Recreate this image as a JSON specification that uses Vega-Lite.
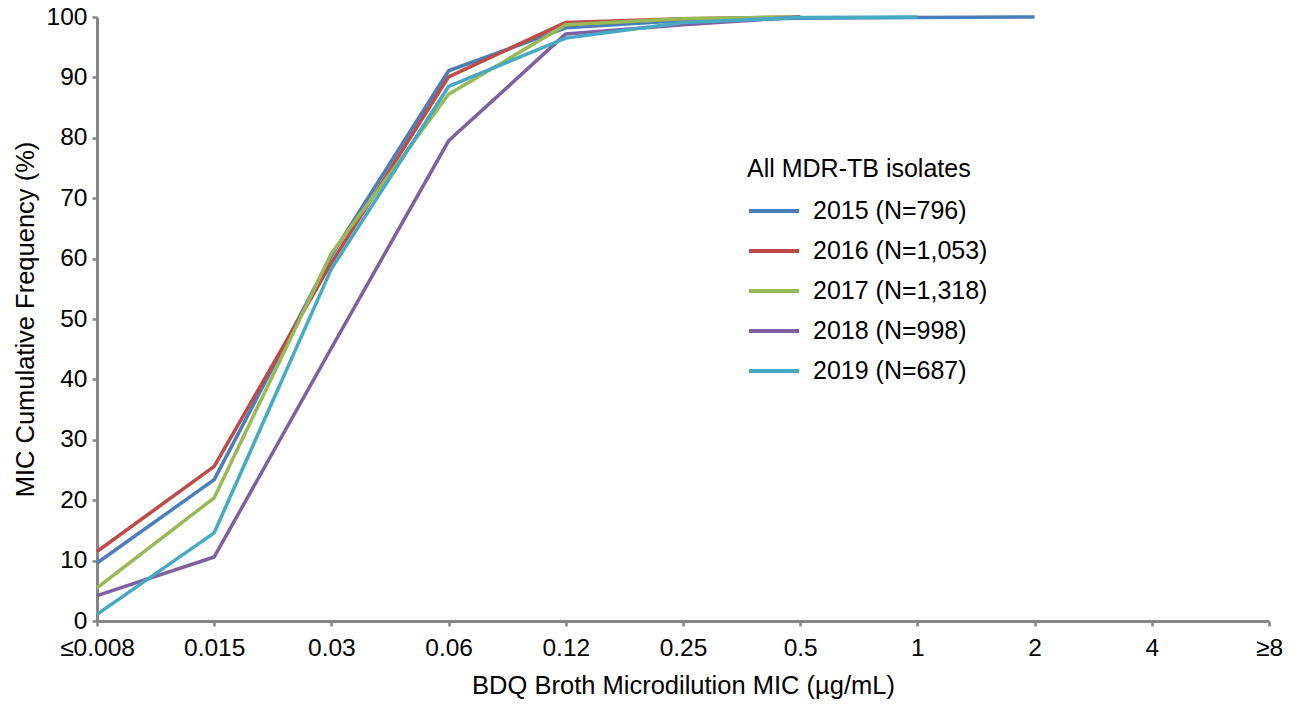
{
  "$schema": "https://vega.github.io/schema/vega-lite/v6.json",
  "width": 1172,
  "height": 604,
  "autosize": {"type": "none"},
  "padding": {"left": 97, "top": 17, "right": 37, "bottom": 88},
  "background": "white",
  "config": {
    "view": {"stroke": null},
    "font": "Liberation Sans",
    "axis": {
      "grid": false,
      "domainColor": "#868686",
      "domainWidth": 3,
      "tickColor": "#868686",
      "tickWidth": 2.5,
      "tickSize": 5,
      "labelColor": "#000000",
      "titleColor": "#000000",
      "labelFont": "Liberation Sans",
      "titleFont": "Liberation Sans",
      "labelFontSize": 24.5,
      "titleFontSize": 25.5,
      "titleFontWeight": "normal"
    }
  },
  "data": {
    "values": [
      {"series": "2015 (N=796)", "mic": "≤0.008", "pct": 9.6},
      {"series": "2015 (N=796)", "mic": "0.015", "pct": 23.4},
      {"series": "2015 (N=796)", "mic": "0.03", "pct": 60.5},
      {"series": "2015 (N=796)", "mic": "0.06", "pct": 91.1},
      {"series": "2015 (N=796)", "mic": "0.12", "pct": 98.2},
      {"series": "2015 (N=796)", "mic": "0.25", "pct": 99.4},
      {"series": "2015 (N=796)", "mic": "0.5", "pct": 99.8},
      {"series": "2015 (N=796)", "mic": "1", "pct": 99.9},
      {"series": "2015 (N=796)", "mic": "2", "pct": 100},
      {"series": "2016 (N=1,053)", "mic": "≤0.008", "pct": 11.5},
      {"series": "2016 (N=1,053)", "mic": "0.015", "pct": 25.6},
      {"series": "2016 (N=1,053)", "mic": "0.03", "pct": 59.3},
      {"series": "2016 (N=1,053)", "mic": "0.06", "pct": 90.1},
      {"series": "2016 (N=1,053)", "mic": "0.12", "pct": 99.1},
      {"series": "2016 (N=1,053)", "mic": "0.25", "pct": 99.7},
      {"series": "2016 (N=1,053)", "mic": "0.5", "pct": 100},
      {"series": "2017 (N=1,318)", "mic": "≤0.008", "pct": 5.5},
      {"series": "2017 (N=1,318)", "mic": "0.015", "pct": 20.4},
      {"series": "2017 (N=1,318)", "mic": "0.03", "pct": 60.9},
      {"series": "2017 (N=1,318)", "mic": "0.06", "pct": 87.2},
      {"series": "2017 (N=1,318)", "mic": "0.12", "pct": 98.7},
      {"series": "2017 (N=1,318)", "mic": "0.25", "pct": 99.7},
      {"series": "2017 (N=1,318)", "mic": "0.5", "pct": 100},
      {"series": "2018 (N=998)", "mic": "≤0.008", "pct": 4.2},
      {"series": "2018 (N=998)", "mic": "0.015", "pct": 10.6},
      {"series": "2018 (N=998)", "mic": "0.03", "pct": 45.2},
      {"series": "2018 (N=998)", "mic": "0.06", "pct": 79.5},
      {"series": "2018 (N=998)", "mic": "0.12", "pct": 97.2},
      {"series": "2018 (N=998)", "mic": "0.25", "pct": 98.7},
      {"series": "2018 (N=998)", "mic": "0.5", "pct": 100},
      {"series": "2019 (N=687)", "mic": "≤0.008", "pct": 1.1},
      {"series": "2019 (N=687)", "mic": "0.015", "pct": 14.6},
      {"series": "2019 (N=687)", "mic": "0.03", "pct": 58.3},
      {"series": "2019 (N=687)", "mic": "0.06", "pct": 88.5},
      {"series": "2019 (N=687)", "mic": "0.12", "pct": 96.5},
      {"series": "2019 (N=687)", "mic": "0.25", "pct": 99.1},
      {"series": "2019 (N=687)", "mic": "0.5", "pct": 99.9},
      {"series": "2019 (N=687)", "mic": "1", "pct": 100}
    ]
  },
  "mark": {"type": "line", "strokeWidth": 3.5, "strokeJoin": "round"},
  "encoding": {
    "x": {
      "field": "mic",
      "type": "ordinal",
      "scale": {"type": "point", "padding": 0, "domain": ["≤0.008", "0.015", "0.03", "0.06", "0.12", "0.25", "0.5", "1", "2", "4", "≥8"]},
      "axis": {"title": "BDQ Broth Microdilution MIC (µg/mL)", "labelAngle": 0, "labelPadding": 10, "titlePadding": 14}
    },
    "y": {
      "field": "pct",
      "type": "quantitative",
      "scale": {"domain": [0, 100], "nice": false, "zero": true},
      "axis": {"title": "MIC Cumulative Frequency (%)", "values": [0, 10, 20, 30, 40, 50, 60, 70, 80, 90, 100], "labelPadding": 5, "titlePadding": 8}
    },
    "color": {
      "field": "series",
      "type": "nominal",
      "scale": {
        "domain": ["2015 (N=796)", "2016 (N=1,053)", "2017 (N=1,318)", "2018 (N=998)", "2019 (N=687)"],
        "range": ["#4A7EBB", "#BE4B48", "#98B954", "#7D60A0", "#46AAC5"]
      },
      "legend": {
        "title": "All MDR-TB isolates",
        "orient": "none",
        "legendX": 650,
        "legendY": 140,
        "titleFont": "Liberation Sans",
        "titleFontSize": 25,
        "titleFontWeight": "normal",
        "titleColor": "#000000",
        "titlePadding": 2,
        "titleLimit": 400,
        "labelFont": "Liberation Sans",
        "labelFontSize": 25,
        "labelColor": "#000000",
        "labelLimit": 400,
        "labelOffset": 12,
        "symbolType": "stroke",
        "symbolSize": 2500,
        "symbolStrokeWidth": 4,
        "rowPadding": 0
      }
    }
  }
}
